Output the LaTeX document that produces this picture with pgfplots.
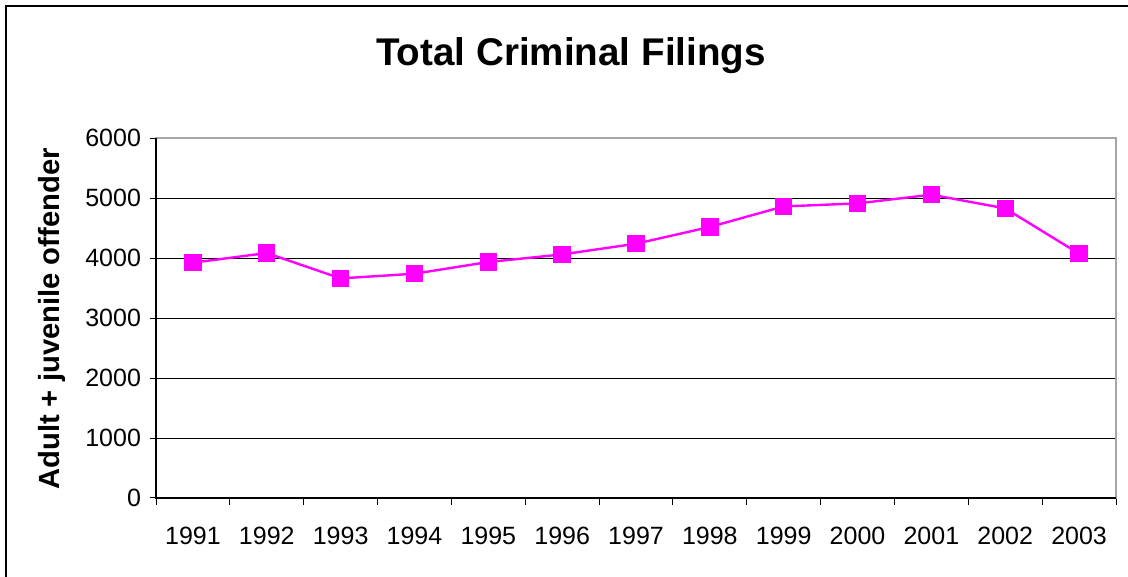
\documentclass[border=0pt]{standalone}
\usepackage{pgfplots}
\pgfplotsset{compat=1.18}
\usepackage{fontspec}
\setmainfont{Liberation Sans}
\definecolor{mag}{RGB}{255,0,255}
\begin{document}
\begin{tikzpicture}[x=1pt,y=1pt]
\useasboundingbox (0,0) rectangle (564,288.5);
\draw[black,line width=0.6pt] (3,0) -- (3,285.5) -- (564,285.5);
\node[font=\bfseries\fontsize{19.3}{22}\selectfont] at (285.5,260.5) {Total Criminal Filings};
\node[font=\bfseries\fontsize{14.6}{17}\selectfont,rotate=90] at (26,129) {Adult + juvenile offender};
\begin{axis}[
  at={(78pt,39.5pt)}, anchor=south west,
  scale only axis=true, width=480pt, height=180pt,
  xmin=0.5, xmax=13.5, ymin=0, ymax=6000,
  xtick={1,...,13},
  xticklabels={1991,1992,1993,1994,1995,1996,1997,1998,1999,2000,2001,2002,2003},
  minor xtick={0.5,1.5,...,13.5},
  major x tick style={draw=none},
  ytick={0,1000,...,6000},
  tick pos=left,
  tick align=outside,
  major tick length=3pt, minor tick length=3.5pt,
  tick style={black,line width=0.5pt},
  ymajorgrids=true,
  grid style={black,line width=0.5pt},
  axis line style={gray!70,line width=0.8pt},
  ticklabel style={font=\fontsize{12.5}{14}\selectfont},
  /pgf/number format/assume math mode=true,
  /pgf/number format/1000 sep={},
  xticklabel style={yshift=-8pt},
  yticklabel style={xshift=-1pt},
  clip=false,
]
\addplot[color=mag, line width=1.2pt, mark=square*, mark size=3.75pt, mark options={solid,fill=mag,draw=mag}]
  coordinates {(1,3922) (2,4083) (3,3660) (4,3738) (5,3933) (6,4060) (7,4238) (8,4517) (9,4860) (10,4910) (11,5055) (12,4827) (13,4072)};
\draw[black,line width=0.6pt] (rel axis cs:0,1) -- (rel axis cs:0,0) -- (rel axis cs:1,0);
\end{axis}
\end{tikzpicture}
\end{document}
